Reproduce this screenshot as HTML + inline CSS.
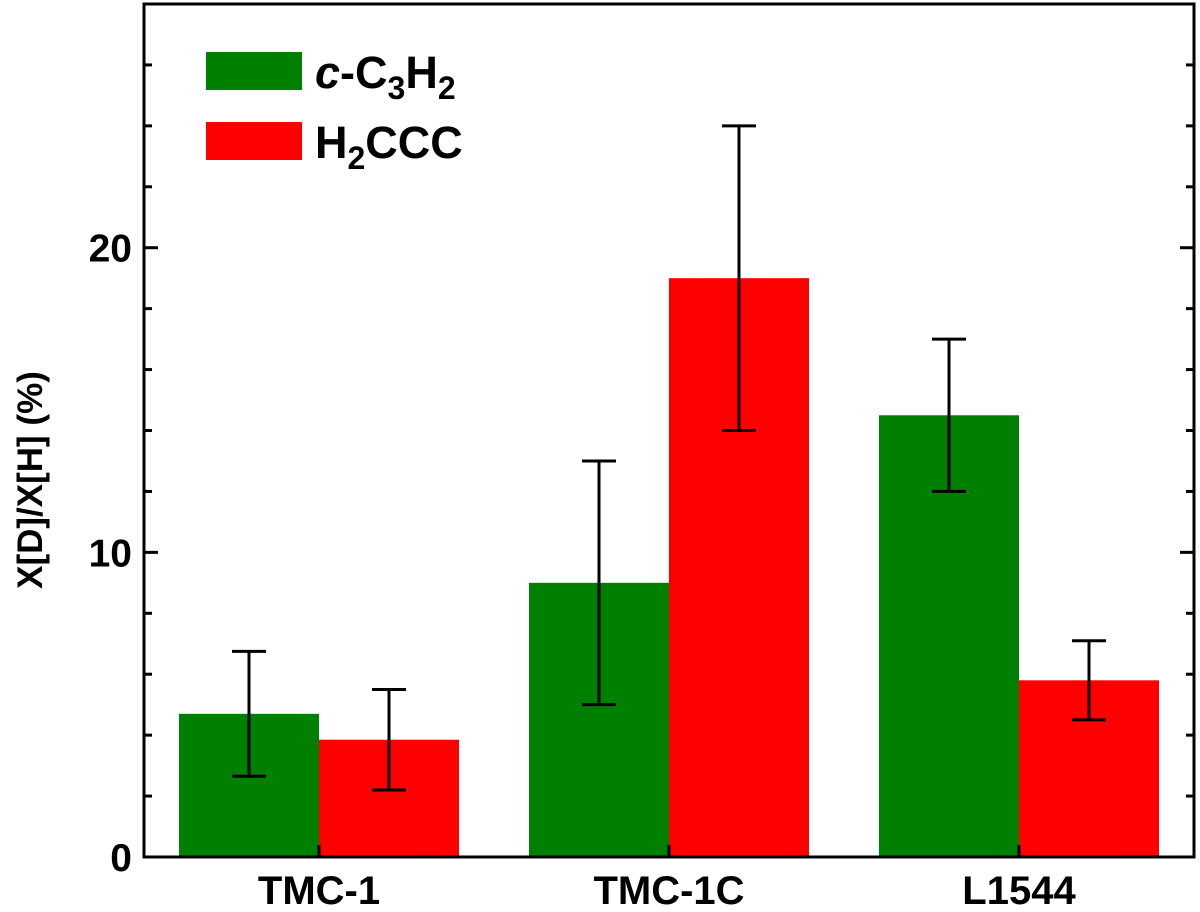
<!DOCTYPE html>
<html><head><meta charset="utf-8"><style>
html,body{margin:0;padding:0;background:#fff;}
svg{display:block;font-family:"Liberation Sans",Arial,sans-serif;font-weight:bold;}
</style></head><body>
<svg id="chart" width="1200" height="912" viewBox="0 0 1200 912"></svg>
<script>
const categories = ["TMC-1","TMC-1C","L1544"];
const seriesNames = ["c-C3H2","H2CCC"];
const greenValues = [4.7, 9.0, 14.5];
const greenErrors = [2.05, 4.0, 2.5];
const redValues = [3.85, 19.0, 5.8];
const redErrors = [1.65, 5.0, 1.3];
const yTickLabels = [0, 10, 20];

const svg = document.getElementById('chart');
const NS = 'http://www.w3.org/2000/svg';
const L = 144, R = 1194, T = 4, B = 857, YMAX = 28;
const y = v => B - (v / YMAX) * (B - T);
const grp = (R - L) / categories.length;
const xc = i => L + grp * (i + 0.5);
const barW = 140;
function mk(tag, attrs, parent) {
  const e = document.createElementNS(NS, tag);
  for (const k in attrs) e.setAttribute(k, attrs[k]);
  (parent || svg).appendChild(e);
  return e;
}
const series = [{v: greenValues, e: greenErrors, c: '#008000', off: -1}, {v: redValues, e: redErrors, c: '#ff0000', off: 0}];
series.forEach((s, si) => {
  s.v.forEach((val, i) => {
    const x0 = xc(i) + s.off * barW;
    const r = mk('rect', {x: x0, y: y(val), width: barW, height: B - y(val), fill: s.c});
    
    
  });
});
series.forEach((s, si) => {
  s.v.forEach((val, i) => {
    const cx = xc(i) + s.off * barW + barW / 2;
    const g = mk('g', {stroke: '#000', 'stroke-width': 3});
    
    
    const hi = y(val + s.e[i]), lo = y(val - s.e[i]);
    mk('line', {x1: cx, x2: cx, y1: hi, y2: lo}, g);
    mk('line', {x1: cx - 17, x2: cx + 17, y1: hi, y2: hi}, g);
    mk('line', {x1: cx - 17, x2: cx + 17, y1: lo, y2: lo}, g);
  });
});
const tg = mk('g', {stroke: '#000', 'stroke-width': 3});


for (let v = 0; v <= YMAX; v += 2) {
  const len = (v % 10 === 0) ? 14 : 8;
  mk('line', {x1: L, x2: L + len, y1: y(v), y2: y(v)}, tg);
  mk('line', {x1: R, x2: R - len, y1: y(v), y2: y(v)}, tg);
}
categories.forEach((c, i) => {
  mk('line', {x1: xc(i), x2: xc(i), y1: B, y2: B - 12}, tg);
});
const frame = mk('rect', {x: L, y: T, width: R - L, height: B - T, fill: 'none', stroke: '#000', 'stroke-width': 3});


yTickLabels.forEach(v => {
  const t = mk('text', {x: 132, y: y(v) + 14, 'text-anchor': 'end', 'font-size': 39});
  t.textContent = v;
  
  
});
categories.forEach((c, i) => {
  const t = mk('text', {x: xc(i), y: 904, 'text-anchor': 'middle', 'font-size': 40});
  t.textContent = c;
  
  
});
</script>
<svg style="position:absolute;left:0;top:0" width="1200" height="912">
  <text transform="translate(42,480) rotate(-90)" text-anchor="middle" font-size="35" font-family="Liberation Sans, Arial, sans-serif" font-weight="bold">X[D]/X[H] (%)</text>
  <g font-family="Liberation Sans, Arial, sans-serif" font-weight="bold" font-size="45">
    <rect x="206" y="52" width="96" height="38" fill="#008000"/>
    <text x="315" y="88"><tspan font-style="italic">c</tspan>-C<tspan font-size="32" dy="11">3</tspan><tspan dy="-11">H</tspan><tspan font-size="32" dy="11">2</tspan></text>
    <rect x="206" y="122" width="96" height="38" fill="#ff0000"/>
    <text x="315" y="158">H<tspan font-size="32" dy="11">2</tspan><tspan dy="-11">CCC</tspan></text>
  </g>
</svg>
</body></html>
